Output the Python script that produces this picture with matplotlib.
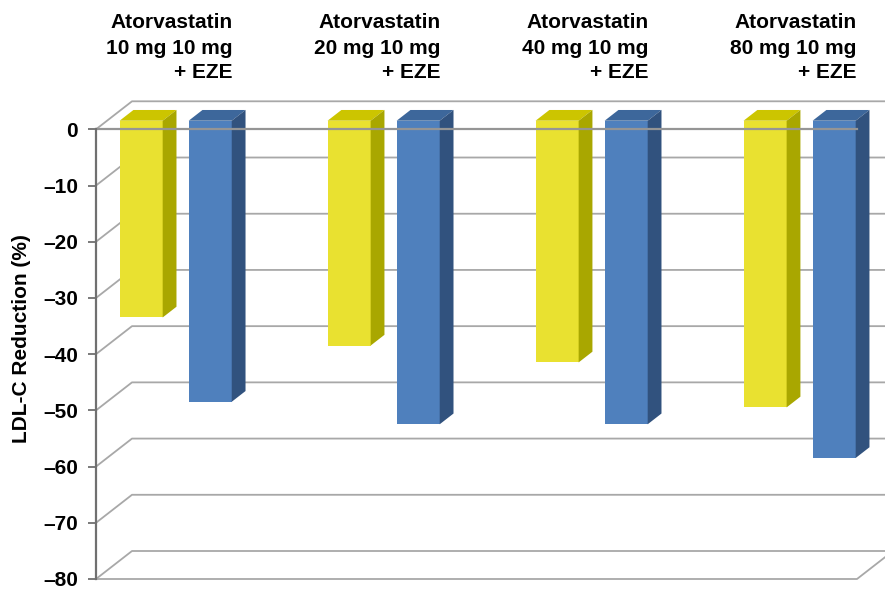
import matplotlib
matplotlib.use("Agg")
import matplotlib.pyplot as plt
from matplotlib.patches import Polygon
from matplotlib.lines import Line2D
import matplotlib.transforms as mtransforms
import numpy as np

# ---------------- data ----------------
categories = ["Atorvastatin\n10 mg 10 mg\n+ EZE",
              "Atorvastatin\n20 mg 10 mg\n+ EZE",
              "Atorvastatin\n40 mg 10 mg\n+ EZE",
              "Atorvastatin\n80 mg 10 mg\n+ EZE"]
atorvastatin = [-35, -40, -43, -51]
atorvastatin_eze = [-50, -54, -54, -60]
yticks = [0, -10, -20, -30, -40, -50, -60, -70, -80]
ytick_labels = ["0", "\u201310", "\u201320", "\u201330", "\u201340",
                "\u201350", "\u201360", "\u201370", "\u201380"]
ylabel = "LDL-C Reduction (%)"

# ---------------- style ----------------
plt.rcParams['font.family'] = ['Liberation Sans', 'DejaVu Sans']
W, H, DPI = 885, 589, 100
FS = 15
yellow = dict(front="#E9E130", top="#CCC500", side="#A9A700")
blue = dict(front="#4F80BD", top="#3D679B", side="#31527E")
grid_c = "#A8A8A8"

fig = plt.figure(figsize=(W / DPI, H / DPI), dpi=DPI)
ax = fig.add_axes([96 / W, 1 - 579 / H, (857 - 96) / W, (579 - 129.3) / H])
x_left, x_right = -0.330, 3.329
ax.set_xlim(x_left, x_right)
ax.set_ylim(-80, 0)

p0 = ax.transData.transform((0, 0))
p1 = ax.transData.transform((1, 1))
sx, sy = p1[0] - p0[0], p1[1] - p0[1]
DEPTH_PX = (36.0, 28.0)


def depth(f):
    return f * DEPTH_PX[0] / sx, f * DEPTH_PX[1] / sy


Dx, Dy = depth(1.0)

# back wall gridlines + left wall diagonals
for t in yticks:
    ax.add_line(Line2D([x_left, x_left + Dx, x_right + Dx], [t, t + Dy, t + Dy],
                       color=grid_c, lw=1.3, clip_on=False, zorder=1))
# bottom floor edges
ax.add_line(Line2D([x_left, x_right, x_right + Dx], [-80, -80, -80 + Dy],
                   color=grid_c, lw=1.3, clip_on=False, zorder=1))

# bars
bw = 0.207
offs = [-0.166, 0.166]
f1, f2 = 0.307, 0.69
fx, fy = depth(f1)
bx, by = depth(f2)
xs = np.arange(len(categories))
for vals, col, o in [(atorvastatin, yellow, offs[0]), (atorvastatin_eze, blue, offs[1])]:
    xc = xs + o
    ax.bar(xc + fx, vals, width=bw, bottom=fy, color=col["front"], zorder=3,
           clip_on=False, linewidth=0)
    for x, v in zip(xc, vals):
        x0, x1 = x - bw / 2, x + bw / 2
        ax.add_patch(Polygon([(x0 + fx, fy), (x1 + fx, fy), (x1 + bx, by), (x0 + bx, by)],
                             closed=True, facecolor=col["top"], edgecolor='none',
                             zorder=3, clip_on=False))
        ax.add_patch(Polygon([(x1 + fx, fy), (x1 + bx, by), (x1 + bx, v + by), (x1 + fx, v + fy)],
                             closed=True, facecolor=col["side"], edgecolor='none',
                             zorder=3, clip_on=False))

# front edge of zero floor (drawn over bars)
ax.add_line(Line2D([x_left, x_right], [0, 0], color="#959595", lw=1.6,
                   clip_on=False, zorder=4))

# axes styling
for s in ["top", "right", "bottom"]:
    ax.spines[s].set_visible(False)
ax.spines["left"].set_color("#707070")
ax.spines["left"].set_linewidth(1.6)
ax.spines["left"].set_zorder(5)
ax.set_xticks([])
ax.set_yticks(yticks, ytick_labels)
ax.tick_params(axis='y', length=5.8, width=1.3, color="#707070", pad=7,
               labelsize=FS)
for lab in ax.get_yticklabels():
    lab.set_fontweight('bold')
ax.patch.set_visible(False)

fig.text(22 / W, 1 - 338.5 / H, ylabel, rotation=90, ha='center', va='center',
         fontsize=FS, fontweight='bold')

blend = mtransforms.blended_transform_factory(ax.transData, fig.transFigure)
for i, c in enumerate(categories):
    ax.text(i + 0.325, 1 - 13.5 / H, c, transform=blend, ha='right', va='top',
            multialignment='right', fontsize=FS, fontweight='bold',
            linespacing=1.4, clip_on=False)

fig.savefig("out.png", dpi=DPI)
